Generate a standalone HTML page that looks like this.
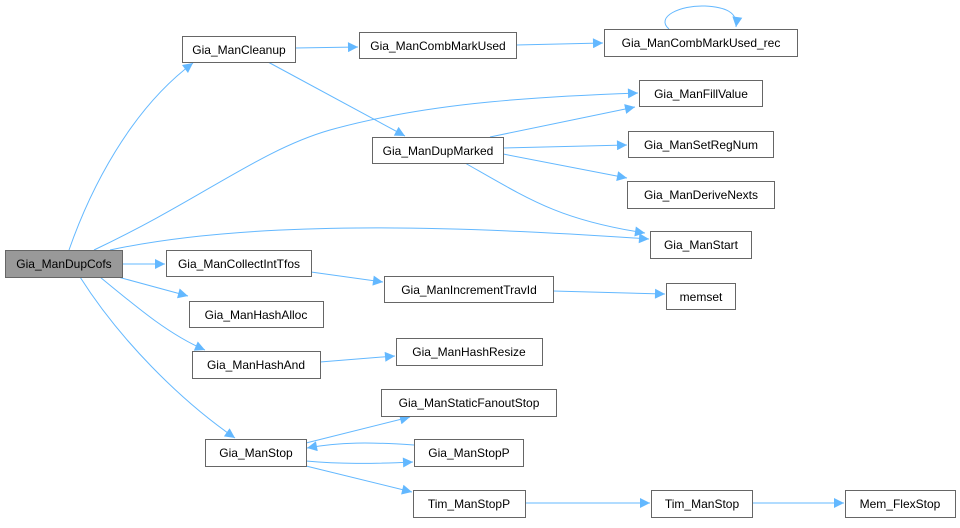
<!DOCTYPE html>
<html><head><meta charset="utf-8"><style>
html,body{margin:0;padding:0;background:#fff;}
svg text{font-family:"Liberation Sans",Arial,sans-serif;font-size:12px;fill:#000;}
</style></head><body>
<svg width="960" height="523" viewBox="0 0 960 523" xmlns="http://www.w3.org/2000/svg">
<defs><marker id="a" viewBox="0 0 10 10" refX="10" refY="5" markerWidth="11" markerHeight="10" markerUnits="userSpaceOnUse" orient="auto"><path d="M0,0 L10,5 L0,10 z" fill="#63b8ff"/></marker></defs>
<g fill="none" stroke="#63b8ff" stroke-width="1" marker-end="url(#a)">
<path d="M69,250 C90,190 130,110 193,63"/>
<path d="M295,48 L358,47"/>
<path d="M516,45 L603,43"/>
<path d="M669,29 C655,17 680,5 705,6 C725,7 738,12 736,27"/>
<path d="M268,62 L405,136"/>
<path d="M94,250 C200,200 260,150 330,130 C420,105 520,97 638,93"/>
<path d="M490,137 L635,107"/>
<path d="M503,148 L627,145"/>
<path d="M503,154 L627,178"/>
<path d="M465,163 C530,200 560,220 645,233"/>
<path d="M110,250 C250,220 450,225 649,239"/>
<path d="M122,264 L165,264"/>
<path d="M311,272 L383,282"/>
<path d="M553,291 L665,294"/>
<path d="M118,277 L188,296"/>
<path d="M100,277 C140,310 170,335 205,350"/>
<path d="M80,277 C120,340 180,400 235,438"/>
<path d="M320,362 L395,356"/>
<path d="M306,443 L410,417"/>
<path d="M414,445 C370,442 340,442 307,448"/>
<path d="M306,461 C340,464 370,464 413,462"/>
<path d="M306,466 L412,492"/>
<path d="M525,503 L650,503"/>
<path d="M752,503 L844,503"/>
</g>
<g stroke="#666" stroke-width="1" fill="#fff">
<rect x="5.5" y="250.5" width="117" height="27" fill="#999"/>
<rect x="182.5" y="36.5" width="113" height="26"/>
<rect x="359.5" y="32.5" width="157" height="26"/>
<rect x="604.5" y="29.5" width="193" height="27"/>
<rect x="639.5" y="80.5" width="123" height="26"/>
<rect x="372.5" y="137.5" width="131" height="26"/>
<rect x="628.5" y="131.5" width="145" height="26"/>
<rect x="627.5" y="181.5" width="147" height="27"/>
<rect x="650.5" y="231.5" width="101" height="27"/>
<rect x="166.5" y="250.5" width="145" height="26"/>
<rect x="384.5" y="276.5" width="169" height="26"/>
<rect x="666.5" y="283.5" width="69" height="26"/>
<rect x="189.5" y="301.5" width="134" height="26"/>
<rect x="192.5" y="351.5" width="128" height="27"/>
<rect x="396.5" y="338.5" width="146" height="27"/>
<rect x="381.5" y="389.5" width="175" height="27"/>
<rect x="205.5" y="439.5" width="101" height="27"/>
<rect x="414.5" y="439.5" width="109" height="27"/>
<rect x="413.5" y="490.5" width="112" height="27"/>
<rect x="651.5" y="490.5" width="101" height="27"/>
<rect x="845.5" y="490.5" width="110" height="27"/>
</g>
<g text-anchor="middle">
<text x="64" y="268">Gia_ManDupCofs</text>
<text x="239" y="54">Gia_ManCleanup</text>
<text x="438" y="50">Gia_ManCombMarkUsed</text>
<text x="701" y="47">Gia_ManCombMarkUsed_rec</text>
<text x="701" y="98">Gia_ManFillValue</text>
<text x="438" y="155">Gia_ManDupMarked</text>
<text x="701" y="149">Gia_ManSetRegNum</text>
<text x="701" y="199">Gia_ManDeriveNexts</text>
<text x="701" y="249">Gia_ManStart</text>
<text x="239" y="268">Gia_ManCollectIntTfos</text>
<text x="469" y="294">Gia_ManIncrementTravId</text>
<text x="701" y="301">memset</text>
<text x="256" y="319">Gia_ManHashAlloc</text>
<text x="256" y="369">Gia_ManHashAnd</text>
<text x="469" y="356">Gia_ManHashResize</text>
<text x="469" y="407">Gia_ManStaticFanoutStop</text>
<text x="256" y="457">Gia_ManStop</text>
<text x="469" y="457">Gia_ManStopP</text>
<text x="469" y="508">Tim_ManStopP</text>
<text x="702" y="508">Tim_ManStop</text>
<text x="900" y="508">Mem_FlexStop</text>
</g>
</svg>
</body></html>
